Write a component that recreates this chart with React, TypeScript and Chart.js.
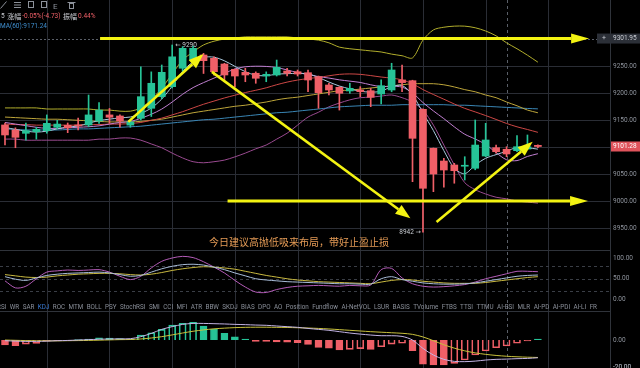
import React, { useEffect, useRef } from 'react';
import { Chart, registerables } from 'chart.js';

Chart.register(...registerables);

// ---------- data ----------
const openP = [9141.3, 9132, 9125.8, 9128.8, 9130.7, 9137, 9140.7, 9141, 9141.3, 9148.7, 9160, 9158, 9141, 9153.7, 9172.3, 9193.9, 9212.5, 9246.7, 9262, 9271.4, 9265.2, 9254.6, 9244.8, 9239.2, 9237.4, 9232.3, 9234.2, 9241.6, 9240.3, 9238.5, 9231, 9215.6, 9211.3, 9204.5, 9206.3, 9205, 9198.9, 9206.3, 9225, 9223.6, 9170.4, 9098, 9074.3, 9066.9, 9064.6, 9060.8, 9083.6, 9099.1, 9096.1, 9093.5, 9096.6, 9103.5];
const highP = [9145, 9136, 9145, 9137, 9160, 9150, 9145, 9154, 9197, 9182.7, 9172, 9160, 9150, 9249.6, 9240, 9252.8, 9290, 9287, 9288, 9274.5, 9268, 9256, 9245, 9246.7, 9240, 9240, 9262, 9246.7, 9243.5, 9243.5, 9232.3, 9218.8, 9212.5, 9218.8, 9212.5, 9209.5, 9225, 9256, 9252.8, 9224.5, 9171.5, 9098.5, 9079.4, 9070, 9082.3, 9150.6, 9144.4, 9104, 9100.9, 9121.4, 9122.7, 9104.5];
const lowP = [9104, 9099, 9113, 9115, 9126, 9134, 9127, 9132, 9138, 9144.4, 9144.4, 9137, 9137, 9150.6, 9157, 9190, 9210, 9240, 9258, 9237, 9234, 9225, 9212.5, 9221.7, 9218.8, 9221.7, 9232.3, 9232.3, 9232.3, 9203.2, 9172.3, 9197, 9169, 9200.2, 9193.9, 9175.3, 9180.3, 9203, 9203, 9035.9, 8942, 9017.3, 9025.5, 9033, 9039, 9058, 9082.3, 9088.7, 9082.3, 9091.6, 9096, 9099];
const closeP = [9122.7, 9118.4, 9130.7, 9133.3, 9144.4, 9143, 9136.2, 9139.5, 9160, 9169, 9155.6, 9148.7, 9147, 9193.9, 9218.8, 9239.2, 9268, 9283.8, 9283.8, 9260.8, 9240.3, 9234.2, 9232.3, 9234.2, 9228.1, 9235.5, 9248.5, 9237.4, 9236, 9224.9, 9201.3, 9206.3, 9200.2, 9209.5, 9203.2, 9192.7, 9214.3, 9243.5, 9220, 9116.5, 9023.6, 9050.2, 9057.6, 9056.3, 9065.9, 9104, 9113.4, 9091.6, 9087.4, 9100.9, 9100.9, 9101.28];

const ma5 = [9137, 9133, 9130, 9128, 9129.9, 9134.0, 9137.5, 9139.3, 9144.6, 9149.5, 9152.1, 9154.6, 9156.1, 9162.8, 9172.8, 9189.5, 9213.4, 9240.7, 9258.7, 9267.1, 9267.3, 9260.6, 9250.3, 9240.4, 9233.8, 9232.9, 9235.7, 9236.7, 9237.1, 9236.5, 9229.6, 9221.2, 9213.7, 9208.4, 9204.1, 9202.4, 9204.0, 9212.6, 9214.7, 9197.4, 9163.6, 9130.8, 9093.6, 9060.8, 9050.7, 9066.8, 9079.4, 9086.2, 9092.5, 9099.5, 9098.8, 9096.4];
const ma10 = [9146, 9143, 9140, 9137, 9135, 9135, 9136, 9137, 9138, 9139.7, 9143.0, 9146.0, 9147.7, 9153.7, 9161.2, 9170.8, 9184.0, 9198.4, 9210.8, 9220.0, 9228.4, 9237.0, 9245.5, 9249.5, 9250.5, 9250.1, 9248.2, 9243.5, 9238.7, 9235.1, 9231.2, 9228.5, 9225.2, 9222.8, 9220.3, 9216.0, 9212.6, 9213.2, 9211.6, 9200.8, 9183.0, 9167.4, 9153.1, 9137.8, 9124.1, 9115.2, 9105.1, 9089.9, 9076.7, 9075.1, 9082.8, 9087.9];
const ma20 = [9143, 9142, 9142, 9141, 9141, 9141, 9141, 9141, 9142, 9142, 9143, 9143, 9144, 9146, 9150, 9154, 9160, 9166, 9173, 9179.8, 9185.7, 9191.5, 9196.6, 9201.6, 9205.8, 9210.4, 9216.1, 9221.0, 9224.8, 9227.6, 9229.8, 9232.7, 9235.4, 9236.2, 9235.4, 9233.1, 9230.4, 9228.4, 9225.2, 9217.9, 9207.1, 9197.9, 9189.2, 9180.3, 9172.2, 9165.6, 9158.8, 9151.6, 9144.1, 9137.9, 9132.9, 9127.6];
const ma30 = [9156, 9155, 9154, 9153, 9152, 9152, 9151, 9150, 9149, 9148, 9147, 9147, 9147, 9148, 9150, 9152, 9156, 9160, 9164, 9167, 9170, 9173, 9176, 9178, 9181, 9184, 9188, 9191, 9193, 9196, 9199, 9202, 9205, 9206, 9208, 9210, 9212, 9214, 9216, 9218, 9218, 9218, 9216, 9212, 9207, 9203, 9197, 9192, 9184, 9177, 9169, 9164];
const ma60 = [9134, 9133, 9132, 9132, 9132, 9132, 9133, 9134, 9134, 9135, 9136, 9137, 9138, 9139, 9141, 9143, 9145, 9147, 9149, 9151, 9152, 9154, 9156, 9158, 9160, 9162, 9164, 9165, 9167, 9169, 9171, 9173, 9175, 9176, 9177, 9178, 9178, 9178, 9179, 9179, 9179, 9179, 9179, 9178, 9178, 9177, 9176, 9175, 9174, 9173, 9172, 9171.24];
const bollUp = [9173, 9173, 9173, 9173, 9171, 9171, 9171, 9171, 9171, 9169, 9169, 9167, 9167, 9173, 9188, 9210, 9236, 9262, 9277, 9290, 9297, 9301, 9303, 9305, 9305, 9305, 9305, 9305, 9303, 9301, 9299, 9294, 9286, 9283, 9281, 9279, 9277, 9273, 9270, 9266, 9299, 9318, 9323, 9325, 9325, 9322, 9316, 9307, 9294, 9283, 9271, 9258];
const bollLow = [9115, 9115, 9113, 9113, 9113, 9113, 9113, 9113, 9113, 9115, 9115, 9117, 9117, 9113, 9106, 9099, 9089, 9080, 9073, 9071, 9073, 9076, 9082, 9089, 9097, 9104, 9115, 9126, 9141, 9156, 9165, 9175, 9182, 9188, 9192, 9193, 9195, 9197, 9192, 9184, 9169, 9141, 9104, 9067, 9034, 9021, 9013, 9007, 9004, 9000, 8998, 8996];

const kLine = [55, 49, 46, 52, 58, 61, 63, 64, 65, 66, 64, 60, 56, 58, 66, 74, 80, 84, 85, 83, 78, 72, 64, 57, 50, 47, 45, 43, 42, 41, 40, 39, 38, 38, 37, 37, 50, 55, 48, 44, 40, 38, 37, 37, 38, 40, 44, 48, 52, 56, 58, 59];
const dLine = [60, 57, 54, 53, 54, 57, 59, 61, 62, 63, 63, 62, 60, 59, 61, 65, 70, 74, 77, 79, 78, 76, 73, 68, 63, 58, 54, 50, 47, 45, 43, 42, 41, 40, 39, 38, 42, 46, 48, 47, 44, 42, 40, 39, 39, 39, 41, 44, 47, 50, 53, 55];
const jLine = [45, 28, 32, 50, 66, 69, 71, 70, 71, 72, 66, 56, 48, 56, 76, 92, 100, 104, 101, 91, 78, 64, 46, 30, 18, 17, 24, 29, 32, 33, 34, 33, 32, 34, 33, 35, 72, 75, 52, 38, 32, 30, 31, 33, 36, 42, 50, 56, 62, 68, 68, 67];

const macdHist = [-3.7, -4.2, -3.0, -2.5, -0.8, -0.5, -0.3, 0.3, 0.8, 1.7, 1.5, 1.1, 0.7, 3.7, 5.4, 7.9, 11.1, 12.4, 13.1, 10.4, 7.9, 5.0, 2.4, 0.7, -1.0, -1.0, -1.3, -1.5, -2.0, -3.2, -5.4, -6.1, -7.4, -6.9, -6.4, -6.9, -5.0, -3.0, -2.4, -7.9, -17.8, -18.5, -18.5, -17.3, -14.8, -11.1, -8.1, -5.7, -4.4, -2.4, -0.7, 0.7];
const difLine = [-0.5, -0.8, -1.0, -1.0, -0.8, -0.5, -0.3, 0, 0.3, 0.6, 0.8, 0.9, 1.0, 2.5, 4.9, 7.9, 9.9, 11.6, 12.3, 12.3, 12.1, 11.9, 11.6, 11.4, 11.1, 10.9, 10.4, 9.9, 9.4, 8.6, 7.9, 7.2, 6.2, 5.2, 4.4, 3.7, 3.2, 3.2, 2.7, 0, -6.2, -11.1, -14.3, -15.8, -16.0, -15.6, -14.8, -14.3, -14.1, -13.8, -13.6, -13.1];
const deaLine = [0, -0.2, -0.4, -0.5, -0.6, -0.6, -0.5, -0.4, -0.3, -0.1, 0.1, 0.3, 0.4, 0.8, 1.5, 2.5, 3.8, 5.2, 6.5, 7.5, 8.3, 8.8, 9.2, 9.4, 9.5, 9.5, 9.4, 9.3, 9.1, 8.9, 8.6, 8.2, 7.7, 7.2, 6.7, 6.2, 5.8, 5.4, 5.0, 4.2, 2.3, -0.5, -3.5, -6.0, -8.0, -9.5, -10.6, -11.4, -12.0, -12.4, -12.7, -12.9];

const priceTicks = [8950, 9000, 9050, 9150, 9200, 9250];
const priceGrid = [8950, 9000, 9050, 9100, 9150, 9200, 9250];
const kdjTicks = [0, 50, 100];
const kdjGuides = [20, 50, 80];
const macdTicks = [-20, 0];
const gridIdx = [4, 10, 16, 22, 28, 34, 40, 46, 52];

const crossIdx = 48;
const crossPrice = 9301.95;
const lastPrice = 9101.28;
const highIdx = 16;
const highVal = 9290;
const lowIdx = 40;
const lowVal = 8942;

// annotation arrows (candle index, price)
const arrowFromIdx = [9.1, 21.3, 11.8, 19.8, 41.3];
const arrowFromVal = [9301.95, 9000, 9147, 9240, 8961];
const arrowToIdx = [55.9, 55.8, 19.0, 38.8, 50.5];
const arrowToVal = [9301.95, 9000, 9273, 8968, 9110];

const tabLabels = ['RSI', 'WR', 'SAR', 'KDJ', 'ROC', 'MTM', 'BOLL', 'PSY', 'StochRSI', 'SMI', 'CCI', 'MFI', 'ATR', 'BBW', 'SKDJ', 'BIAS', 'DPO', 'AO', 'Position', 'Fundflow', 'AI-NetVOL', 'LSUR', 'BASIS', 'TVolume', 'FTBS', 'TTSI', 'TTMU', 'AI-BSI', 'MLR', 'AI-PD', 'AI-PDI', 'AI-LI', 'FR'];
const noteText = '今日建议高抛低吸来布局，带好止盈止损';

// ---------- style ----------
const GREEN = '#26c397';
const RED = '#ef5f67';
const GRID = '#2a2d35';
const AXIS = '#2f333a';
const LABEL = '#8e939c';
const YELLOW = '#f3f312';
const FONT = 'Roboto, "DejaVu Sans", sans-serif';
const CJK = '"Noto Sans CJK SC", sans-serif';

const idx = closeP.map((_, i) => i);
const pts = (arr: number[]) => arr.map((v, i) => ({ x: i, y: v }));

function drawArrow(ctx: CanvasRenderingContext2D, x1: number, y1: number, x2: number, y2: number, w: number, hl: number, hw: number) {
  const a = Math.atan2(y2 - y1, x2 - x1);
  const bx = x2 - hl * Math.cos(a);
  const by = y2 - hl * Math.sin(a);
  ctx.lineWidth = w;
  ctx.beginPath();
  ctx.moveTo(x1, y1);
  ctx.lineTo(bx, by);
  ctx.stroke();
  ctx.beginPath();
  ctx.moveTo(x2, y2);
  ctx.lineTo(bx + hw * Math.sin(a), by - hw * Math.cos(a));
  ctx.lineTo(bx - hw * Math.sin(a), by + hw * Math.cos(a));
  ctx.closePath();
  ctx.fill();
}

const overlay = {
  id: 'overlay',
  beforeDraw(chart: any) {
    const { ctx, width, height } = chart;
    ctx.save();
    ctx.fillStyle = '#000';
    ctx.fillRect(0, 0, width, height);
    ctx.restore();
  },
  beforeDatasetsDraw(chart: any) {
    const { ctx, chartArea } = chart;
    const x = chart.scales.x, y = chart.scales.y, k = chart.scales.kdj, m = chart.scales.macd;
    ctx.save();
    ctx.lineWidth = 1;
    // grid: vertical lines across all panels, horizontal price lines
    ctx.strokeStyle = GRID;
    gridIdx.forEach((v) => {
      const px = Math.round(x.getPixelForValue(v)) + 0.5;
      ctx.beginPath();
      ctx.moveTo(px, chartArea.top);
      ctx.lineTo(px, chartArea.bottom);
      ctx.stroke();
    });
    priceGrid.forEach((v) => {
      const py = Math.round(y.getPixelForValue(v)) + 0.5;
      ctx.beginPath();
      ctx.moveTo(chartArea.left, py);
      ctx.lineTo(chartArea.right, py);
      ctx.stroke();
    });
    ctx.strokeStyle = AXIS;
    [y.bottom, m.top].forEach((py: number) => {
      ctx.beginPath();
      ctx.moveTo(chartArea.left, Math.round(py) + 0.5);
      ctx.lineTo(chartArea.right, Math.round(py) + 0.5);
      ctx.stroke();
    });
    ctx.strokeStyle = '#3a3e46';
    ctx.setLineDash([3, 3]);
    kdjGuides.forEach((v) => {
      const py = Math.round(k.getPixelForValue(v)) + 0.5;
      ctx.beginPath();
      ctx.moveTo(chartArea.left, py);
      ctx.lineTo(chartArea.right, py);
      ctx.stroke();
    });
    ctx.strokeStyle = '#5a5f68';
    const cx = Math.round(x.getPixelForValue(crossIdx)) + 0.5;
    ctx.beginPath();
    ctx.moveTo(cx, 0);
    ctx.lineTo(cx, chartArea.bottom);
    ctx.stroke();
    ctx.setLineDash([2, 2]);
    const cy = Math.round(y.getPixelForValue(crossPrice)) + 0.5;
    ctx.beginPath();
    ctx.moveTo(chartArea.left, cy);
    ctx.lineTo(chartArea.right, cy);
    ctx.stroke();
    ctx.restore();
  },
  afterDatasetsDraw(chart: any) {
    const { ctx } = chart;
    const x = chart.scales.x, y = chart.scales.y;
    ctx.save();
    ctx.strokeStyle = YELLOW;
    ctx.fillStyle = YELLOW;
    ctx.lineCap = 'butt';
    arrowFromIdx.forEach((_, i) => {
      const x1 = x.getPixelForValue(arrowFromIdx[i]);
      const y1 = y.getPixelForValue(arrowFromVal[i]);
      const x2 = x.getPixelForValue(arrowToIdx[i]);
      const y2 = y.getPixelForValue(arrowToVal[i]);
      const horiz = Math.abs(y2 - y1) < 1;
      drawArrow(ctx, x1, y1, x2, y2, horiz ? 3 : 2.6, horiz ? 18 : 15, horiz ? 5 : 5.5);
    });
    ctx.font = `6.5px ${FONT}`;
    ctx.fillStyle = '#c8ccd2';
    ctx.textBaseline = 'middle';
    ctx.textAlign = 'left';
    ctx.fillText('← ' + highVal, x.getPixelForValue(highIdx) + 3, y.getPixelForValue(highVal));
    ctx.textAlign = 'right';
    ctx.fillText(lowVal + ' →', x.getPixelForValue(lowIdx) - 2, y.getPixelForValue(lowVal));
    ctx.textAlign = 'left';
    ctx.font = `10px ${CJK}`;
    ctx.fillStyle = '#e39a55';
    ctx.fillText(noteText, 209, 242);
    ctx.restore();
  },
  afterDraw(chart: any) {
    const { ctx, chartArea, width } = chart;
    const y = chart.scales.y, k = chart.scales.kdj, m = chart.scales.macd;
    ctx.save();
    ctx.textBaseline = 'middle';
    const cy = y.getPixelForValue(crossPrice);
    ctx.fillStyle = '#2b2f37';
    ctx.fillRect(597, cy - 5, width - 597, 10);
    ctx.fillStyle = '#c9ccd2';
    ctx.font = `7px ${FONT}`;
    ctx.textAlign = 'left';
    ctx.fillText('+', 602, cy);
    ctx.font = `6.5px ${FONT}`;
    ctx.fillText(crossPrice.toFixed(2), chartArea.right + 3, cy);
    const ly = y.getPixelForValue(lastPrice);
    ctx.fillStyle = '#df535b';
    ctx.fillRect(chartArea.right + 1, ly - 5, width - chartArea.right - 1, 10);
    ctx.fillStyle = '#ffffff';
    ctx.fillText(lastPrice.toFixed(2), chartArea.right + 3, ly);
    ctx.fillStyle = LABEL;
    ctx.fillText(macdTicks[0].toFixed(2), chartArea.right + 3, m.getPixelForValue(macdTicks[0]));

    ctx.strokeStyle = '#8c919a';
    ctx.fillStyle = '#8c919a';
    ctx.lineWidth = 1;
    ctx.beginPath(); ctx.moveTo(0.5, 8.5); ctx.lineTo(6.5, 1.5); ctx.stroke();
    for (let r = 0; r < 3; r++) { ctx.beginPath(); ctx.moveTo(14, 2.5 + r * 2.5); ctx.lineTo(21, 2.5 + r * 2.5); ctx.stroke(); }
    ctx.strokeRect(28.5, 1.5, 5, 6);
    ctx.strokeRect(41.5, 1.5, 5, 6);
    ctx.font = `8px ${FONT}`;
    ctx.textBaseline = 'alphabetic';
    ctx.fillText('E', 53, 8.5);
    ctx.beginPath(); ctx.moveTo(67.5, 2.5); ctx.lineTo(75.5, 2.5); ctx.stroke();
    ctx.strokeRect(69.5, 3.5, 4, 5);

    ctx.textBaseline = 'middle';
    const parts: [string, string][] = [['5 ', '#c9ccd2'], ['涨幅', '#c9ccd2'], ['-0.05%(-4.73) ', RED], ['振幅', '#c9ccd2'], ['0.44%', RED]];
    let tx = 1;
    parts.forEach(([t, c]) => {
      ctx.font = /[\u4e00-\u9fff]/.test(t) ? `7px ${CJK}` : `6.5px ${FONT}`;
      ctx.fillStyle = c;
      ctx.fillText(t, tx, 16);
      tx += ctx.measureText(t).width + 1;
    });
    ctx.font = `6.5px ${FONT}`;
    ctx.fillStyle = '#3f8fd0';
    ctx.fillText('MA(60):' + ma60[ma60.length - 1].toFixed(2), 0, 26);

    ctx.font = `6.3px ${FONT}`;
    const widths = tabLabels.map((t) => ctx.measureText(t).width);
    const total = widths.reduce((a, b) => a + b, 0);
    const startX = -3;
    const endX = 597;
    const gap = (endX - startX - total) / (tabLabels.length - 1);
    const tabY = k.getPixelForValue(0) + 7.5;
    let px = startX;
    tabLabels.forEach((t, i) => {
      ctx.fillStyle = t === 'KDJ' ? '#3a7bd5' : '#8a8f99';
      ctx.fillText(t, px, tabY);
      px += widths[i] + gap;
    });
    ctx.restore();
  },
};

const yAxisBase = (weight: number, min: number, max: number, ticks: number[]) => ({
  type: 'linear' as const,
  position: 'right' as const,
  stack: 'right',
  stackWeight: weight,
  min,
  max,
  border: { color: AXIS },
  grid: { display: false, drawTicks: false },
  ticks: {
    color: LABEL,
    font: { family: FONT, size: 6.5 },
    padding: 3,
    autoSkip: false,
    callback: (v: any) => Number(v).toFixed(2),
  },
  afterBuildTicks: (s: any) => { s.ticks = ticks.map((v) => ({ value: v })); },
  afterFit: (s: any) => { s.width = 30; s.paddingTop = 0; s.paddingBottom = 0; },
});

export default function App() {
  const ref = useRef<HTMLCanvasElement>(null);
  useEffect(() => {
    const canvas = ref.current;
    if (!canvas) return;
    const candleColors = idx.map((i) => (closeP[i] >= openP[i] ? GREEN : RED));
    const histColors = macdHist.map((v) => (v >= 0 ? GREEN : RED));
    const histFill = macdHist.map((v, i) => (i > 0 && v > macdHist[i - 1] ? 'rgba(0,0,0,0)' : histColors[i]));
    const line = (label: string, data: number[], color: string, axis: string, w = 1) => ({
      type: 'line' as const,
      label,
      data: pts(data),
      borderColor: color,
      borderWidth: w,
      pointRadius: 0,
      tension: 0.3,
      yAxisID: axis,
      order: 5,
    });
    const chart = new Chart(canvas, {
      type: 'bar',
      data: {
        datasets: [
          {
            type: 'bar', label: 'body', data: idx.map((i) => ({ x: i, y: [openP[i], closeP[i]] })) as any,
            backgroundColor: candleColors, borderWidth: 0, barThickness: 7, grouped: false, minBarLength: 1, yAxisID: 'y', order: 1,
          },
          {
            type: 'bar', label: 'wick', data: idx.map((i) => ({ x: i, y: [lowP[i], highP[i]] })) as any,
            backgroundColor: candleColors, borderWidth: 0, barThickness: 1, grouped: false, yAxisID: 'y', order: 2,
          },
          line('MA5', ma5, '#a9c9de', 'y'),
          line('MA10', ma10, '#c07fd0', 'y'),
          line('MA20', ma20, '#cc4745', 'y'),
          line('MA30', ma30, '#bda53a', 'y'),
          line('MA60', ma60, '#3a86b5', 'y'),
          line('UB', bollUp, '#b2ae2c', 'y'),
          line('LB', bollLow, '#9a4a90', 'y'),
          line('K', kLine, '#a8bcd8', 'kdj'),
          line('D', dLine, '#c9b940', 'kdj'),
          line('J', jLine, '#b45cb8', 'kdj'),
          {
            type: 'bar', label: 'MACD', data: idx.map((i) => ({ x: i, y: macdHist[i] })) as any,
            backgroundColor: histFill, borderColor: histColors, borderWidth: 1, barThickness: 7, grouped: false, yAxisID: 'macd', order: 6,
          },
          line('DIF', difLine, '#c3b4e4', 'macd'),
          line('DEA', deaLine, '#c8c03c', 'macd'),
        ] as any,
      },
      options: {
        responsive: false,
        animation: false,
        events: [],
        layout: { padding: 0 },
        plugins: { legend: { display: false }, tooltip: { enabled: false } },
        scales: {
          x: {
            type: 'linear',
            position: 'bottom',
            offset: false,
            min: -0.478,
            max: 57.9,
            grid: { display: false, drawTicks: false },
            border: { display: false },
            ticks: { display: false },
            afterFit: (s: any) => { s.height = 0; s.paddingLeft = 0; s.paddingRight = 0; },
          },
          y: yAxisBase(250, 8908.9, 9373.6, priceTicks),
          kdj: yAxisBase(61, -27.7, 119.3, kdjTicks),
          macd: yAxisBase(57, -20.7, 21.5, macdTicks),
        } as any,
      },
      plugins: [overlay],
    });
    return () => chart.destroy();
  }, []);
  return (
    <div style={{ position: 'fixed', left: 0, top: 0, width: 640, height: 368, background: '#000' }}>
      <canvas ref={ref} width={640} height={368} style={{ display: 'block', width: 640, height: 368 }} />
    </div>
  );
}
